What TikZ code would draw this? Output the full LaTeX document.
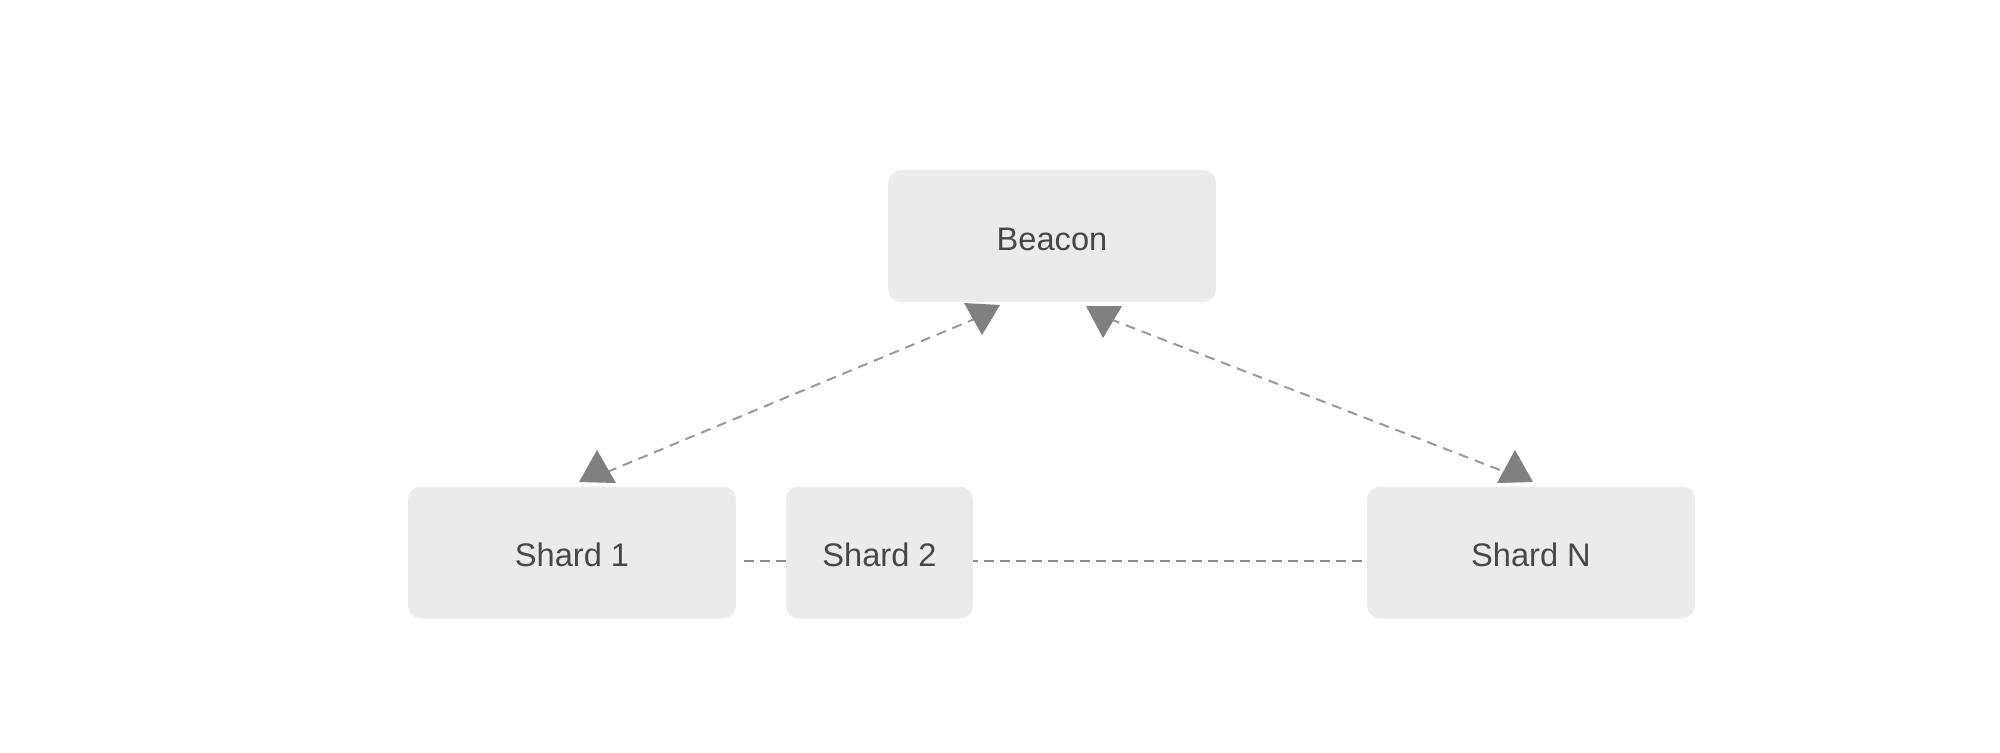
\documentclass[tikz,border=0pt]{standalone}
\usepackage{fontspec}
\setmainfont{Liberation Sans}
\usetikzlibrary{backgrounds}
\definecolor{boxfill}{HTML}{EBEBEB}
\definecolor{txt}{HTML}{474747}
\definecolor{dline}{HTML}{999999}
\definecolor{hline}{HTML}{8C8C8C}
\definecolor{tipc}{HTML}{808080}
\tikzset{
  box/.style={fill=boxfill, draw=none, rounded corners=6.5pt, minimum height=66pt,
    text=txt, font=\fontsize{16.3}{19}\selectfont, inner sep=0pt},
  lbl/.style={text=txt, font=\fontsize{16.3}{19}\selectfont, inner sep=0pt},
  link/.style={dline, line width=1pt, dash pattern=on 5pt off 3.5pt},
  hlink/.style={hline, line width=1pt, dash pattern=on 5pt off 3pt},
  tip/.style={fill=tipc, draw=none}
}
\begin{document}
\begin{tikzpicture}[x=0.5pt, y=-0.5pt]
\useasboundingbox (0,0) rectangle (2000,752);
% nodes
\node[box, minimum width=164pt] (beacon) at (1052,236) {};
\node[box, minimum width=164pt] (s1) at (572,552.5) {};
\node[box, minimum width=164pt] (sN) at (1531,552.5) {};
\node[box, minimum width=93.5pt] (s2) at (879.5,552.5) {};
\node[lbl] (tb) at (1052,239) {Beacon};
\node[lbl] (t1) at (572,555) {Shard 1};
\node[lbl] (tN) at (1531,555) {Shard N};
\node[lbl] (t2) at (879.5,555) {Shard 2};
% horizontal link behind Shard 2 and Shard N
\coordinate (h1) at (744,561);
\coordinate (h2) at (1380,561);
\begin{scope}[on background layer]
\fill[white] (0,0) rectangle (2000,752);
\draw[hlink] (h1) -- (h2);
\end{scope}
% diagonal links
\coordinate (bl) at (977,318);
\coordinate (s1t) at (607,472);
\coordinate (br) at (1110,319);
\coordinate (sNt) at (1505,472);
\draw[link] (s1t) -- (bl);
\draw[link] (br) -- (sNt);
% arrow heads
\fill[tip] (964,303) -- (1000,305) -- (982,335) -- cycle;
\fill[tip] (597,450) -- (579,482) -- (616,483) -- cycle;
\fill[tip] (1086,306) -- (1122,306) -- (1103,338) -- cycle;
\fill[tip] (1515,450) -- (1497,483) -- (1533,482) -- cycle;
\end{tikzpicture}
\end{document}
